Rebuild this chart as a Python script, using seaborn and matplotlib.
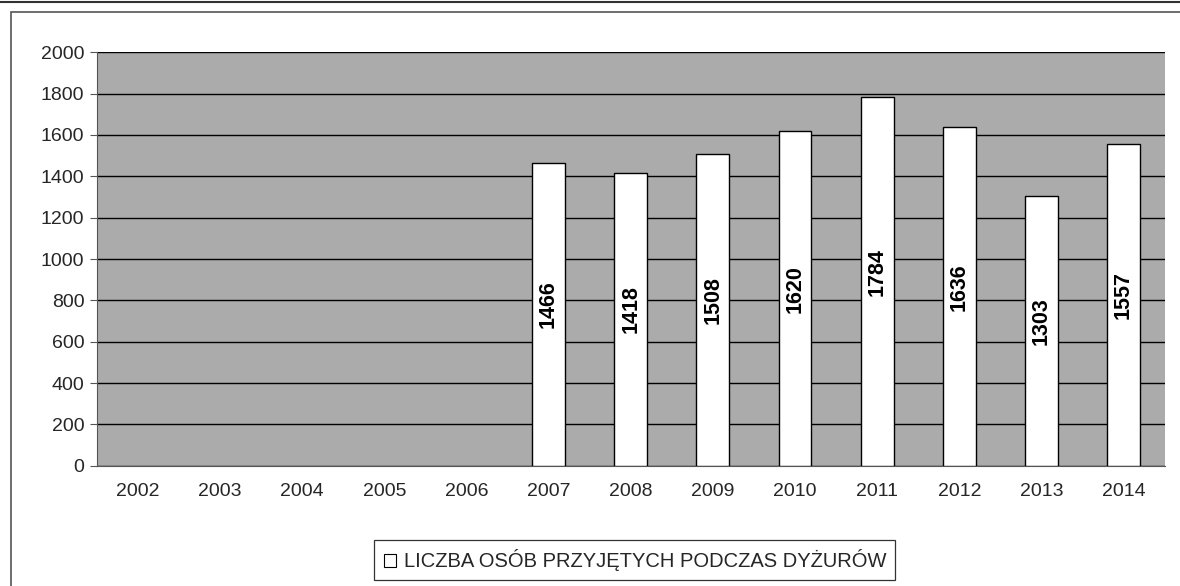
import numpy as np
import pandas as pd
import seaborn as sns
import matplotlib
matplotlib.use("Agg")
import matplotlib.pyplot as plt
from matplotlib.patches import Rectangle, Patch
from matplotlib.lines import Line2D

years = ["2002", "2003", "2004", "2005", "2006", "2007", "2008",
         "2009", "2010", "2011", "2012", "2013", "2014"]
admitted = [np.nan, np.nan, np.nan, np.nan, np.nan, 1466, 1418,
            1508, 1620, 1784, 1636, 1303, 1557]
y_ticks = list(range(0, 2001, 200))
legend_label = "LICZBA OSÓB PRZYJĘTYCH PODCZAS DYŻURÓW"

df = pd.DataFrame({"year": years, "count": admitted})

sns.set_style("white")
plt.rcParams["font.family"] = ["Liberation Sans", "DejaVu Sans"]

fig = plt.figure(figsize=(11.8, 5.86), dpi=100)
ax = fig.add_axes([0.082, 0.205, 0.905, 0.706])

# outer chart frame + scanned table border on top
fig.add_artist(Rectangle((0.009, -0.01), 0.995, 0.99, transform=fig.transFigure,
                         fill=False, edgecolor="#555555", linewidth=1.2))
fig.add_artist(Line2D([0, 1], [0.996, 0.996], transform=fig.transFigure,
                      color="#333333", linewidth=1.5))

ax.set_facecolor("#ababab")
sns.barplot(data=df, x="year", y="count", color="white", edgecolor="black",
            linewidth=1.0, width=0.4, saturation=1, ax=ax, zorder=3)

# labels sit a little above the bar middle, like in the Excel original
for cont in ax.containers:
    labels = ["" if np.isnan(v) else f"{int(v)}" for v in cont.datavalues]
    texts = ax.bar_label(cont, labels=labels, label_type="center", rotation=90,
                         fontsize=15.5, fontweight="bold", color="black", zorder=4)
    for t in texts:
        t.xyann = (0, 7)

ax.set_ylim(0, 2000)
ax.set_yticks(y_ticks)
ax.set_xlim(-0.5, len(years) - 0.5)
ax.yaxis.grid(True, color="black", linewidth=1.0, zorder=1)
ax.set_axisbelow(True)
ax.set_xlabel("")
ax.set_ylabel("")

for side in ["top", "right"]:
    ax.spines[side].set_visible(False)
ax.spines["left"].set_color("#555555")
ax.spines["bottom"].set_color("#555555")

ax.tick_params(axis="y", which="major", direction="out", length=5, pad=4,
               labelsize=14, left=True, color="#555555")
ax.tick_params(axis="x", which="major", length=0, labelsize=14, pad=12)
ax.set_xticks(np.arange(-0.5, len(years)), minor=True)
ax.tick_params(axis="x", which="minor", direction="out", length=5, color="#555555")

handle = Patch(facecolor="white", edgecolor="black", linewidth=0.8)
leg = fig.legend([handle], [legend_label], loc="center", bbox_to_anchor=(0.538, 0.044),
                 fontsize=14.5, frameon=True, fancybox=False, handlelength=0.6,
                 handleheight=0.6, handletextpad=0.4, borderpad=0.45)
leg.get_frame().set_edgecolor("black")
leg.get_frame().set_linewidth(0.9)

fig.savefig("out.png", dpi=100)
